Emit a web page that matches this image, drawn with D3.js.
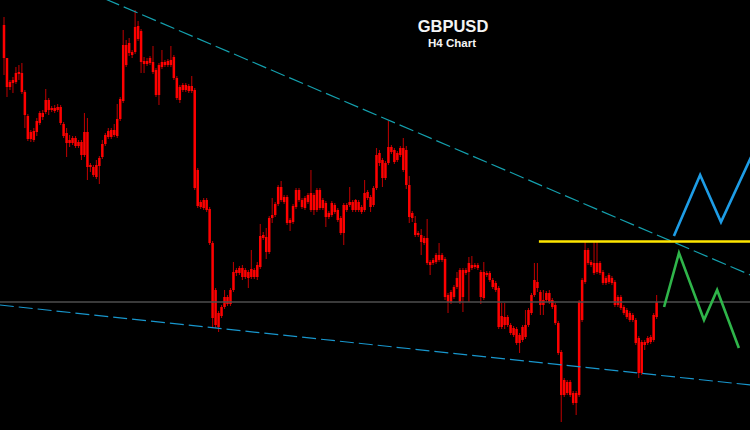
<!DOCTYPE html>
<html>
  <head>
    <title>GBPUSD H4 Chart</title>
    <script src="https://d3js.org/d3.v7.min.js"></script>
  </head>
  <body>
    <svg class="chart" width="750" height="430"></svg>
    <script>
// Candle data (H4 bars)
var open = [
  1.3405,1.3372,1.3343,1.3347,1.3348,1.3356,1.3357,1.3338,1.3314,1.3291,
  1.3299,1.3298,1.3307,1.3313,1.3318,1.3330,1.3322,1.3319,1.3320,1.3323,
  1.3306,1.3297,1.3287,1.3287,1.3292,1.3284,1.3288,1.3275,1.3298,1.3265,
  1.3263,1.3253,1.3264,1.3273,1.3286,1.3293,1.3300,1.3295,1.3294,1.3311,
  1.3329,1.3385,1.3377,1.3378,1.3378,1.3404,1.3399,1.3369,1.3366,1.3367,
  1.3368,1.3360,1.3335,1.3363,1.3368,1.3365,1.3365,1.3373,1.3352,1.3330,
  1.3340,1.3345,1.3344,1.3339,1.3340,1.3260,1.3228,1.3222,1.3230,1.3221,
  1.3187,1.3105,1.3117,1.3114,1.3123,1.3133,1.3126,1.3140,1.3157,1.3157,
  1.3162,1.3153,1.3158,1.3153,1.3160,1.3153,1.3163,1.3192,1.3193,1.3178,
  1.3212,1.3215,1.3226,1.3243,1.3233,1.3233,1.3210,1.3208,1.3223,1.3240,
  1.3230,1.3222,1.3228,1.3237,1.3220,1.3220,1.3240,1.3230,1.3227,1.3217,
  1.3215,1.3225,1.3220,1.3212,1.3197,1.3225,1.3225,1.3228,1.3220,1.3228,
  1.3223,1.3220,1.3232,1.3233,1.3225,1.3242,1.3267,1.3270,1.3252,1.3267,
  1.3283,1.3280,1.3270,1.3275,1.3282,1.3280,1.3245,1.3212,1.3207,1.3197,
  1.3195,1.3187,1.3192,1.3168,1.3167,1.3168,1.3175,1.3170,1.3171,1.3135,
  1.3128,1.3133,1.3143,1.3160,1.3133,1.3160,1.3158,1.3165,1.3163,1.3165,
  1.3158,1.3132,1.3157,1.3157,1.3150,1.3147,1.3142,1.3103,1.3113,1.3105,
  1.3105,1.3102,1.3101,1.3087,1.3090,1.3093,1.3105,1.3117,1.3135,1.3148,
  1.3138,1.3130,1.3130,1.3137,1.3130,1.3125,1.3107,1.3078,1.3035,1.3048,
  1.3035,1.3037,1.3027,1.3035,1.3110,1.3148,1.3180,1.3168,1.3167,1.3158,
  1.3167,1.3158,1.3147,1.3148,1.3152,1.3148,1.3125,1.3133,1.3123,1.3120,
  1.3117,1.3115,1.3110,1.3092,1.3057,1.3088,1.3087,1.3088,1.3090,1.3113
];
var high = [
  1.3413,1.3372,1.3350,1.3353,1.3363,1.3365,1.3367,1.3340,1.3316,1.3300,
  1.3302,1.3312,1.3319,1.3320,1.3341,1.3332,1.3324,1.3325,1.3326,1.3325,
  1.3308,1.3302,1.3295,1.3294,1.3294,1.3290,1.3290,1.3317,1.3312,1.3267,
  1.3265,1.3270,1.3274,1.3290,1.3297,1.3302,1.3302,1.3306,1.3326,1.3333,
  1.3400,1.3390,1.3392,1.3380,1.3420,1.3409,1.3401,1.3373,1.3372,1.3374,
  1.3384,1.3362,1.3367,1.3380,1.3370,1.3371,1.3384,1.3375,1.3354,1.3345,
  1.3347,1.3347,1.3346,1.3354,1.3342,1.3262,1.3230,1.3232,1.3232,1.3223,
  1.3189,1.3142,1.3119,1.3125,1.3140,1.3135,1.3142,1.3168,1.3162,1.3164,
  1.3165,1.3162,1.3160,1.3180,1.3162,1.3168,1.3206,1.3198,1.3202,1.3214,
  1.3232,1.3228,1.3245,1.3249,1.3235,1.3235,1.3212,1.3226,1.3242,1.3242,
  1.3232,1.3234,1.3237,1.3260,1.3237,1.3242,1.3242,1.3232,1.3229,1.3219,
  1.3229,1.3227,1.3222,1.3214,1.3227,1.3227,1.3243,1.3230,1.3231,1.3230,
  1.3225,1.3250,1.3240,1.3235,1.3244,1.3282,1.3280,1.3272,1.3269,1.3309,
  1.3285,1.3282,1.3279,1.3284,1.3292,1.3284,1.3254,1.3219,1.3214,1.3199,
  1.3201,1.3194,1.3211,1.3170,1.3172,1.3177,1.3187,1.3177,1.3173,1.3137,
  1.3140,1.3145,1.3158,1.3162,1.3162,1.3162,1.3173,1.3174,1.3167,1.3167,
  1.3160,1.3168,1.3159,1.3159,1.3152,1.3149,1.3144,1.3127,1.3127,1.3115,
  1.3107,1.3104,1.3103,1.3097,1.3105,1.3120,1.3122,1.3137,1.3167,1.3167,
  1.3140,1.3140,1.3139,1.3140,1.3132,1.3127,1.3109,1.3080,1.3052,1.3050,
  1.3050,1.3039,1.3039,1.3130,1.3152,1.3188,1.3182,1.3170,1.3188,1.3188,
  1.3169,1.3160,1.3154,1.3157,1.3154,1.3150,1.3135,1.3135,1.3125,1.3122,
  1.3119,1.3117,1.3112,1.3094,1.3090,1.3090,1.3094,1.3095,1.3117,1.3135
];
var low = [
  1.3355,1.3333,1.3340,1.3337,1.3346,1.3350,1.3336,1.3302,1.3289,1.3288,
  1.3288,1.3294,1.3305,1.3310,1.3316,1.3315,1.3318,1.3317,1.3318,1.3305,
  1.3292,1.3273,1.3283,1.3285,1.3282,1.3282,1.3270,1.3273,1.3250,1.3258,
  1.3253,1.3251,1.3246,1.3271,1.3284,1.3291,1.3291,1.3293,1.3292,1.3309,
  1.3327,1.3363,1.3374,1.3372,1.3376,1.3389,1.3357,1.3357,1.3364,1.3365,
  1.3356,1.3333,1.3325,1.3361,1.3363,1.3363,1.3363,1.3350,1.3330,1.3327,
  1.3338,1.3338,1.3337,1.3337,1.3240,1.3222,1.3221,1.3220,1.3218,1.3185,
  1.3102,1.3102,1.3098,1.3112,1.3121,1.3124,1.3124,1.3138,1.3154,1.3155,
  1.3150,1.3151,1.3142,1.3151,1.3151,1.3150,1.3161,1.3190,1.3171,1.3176,
  1.3207,1.3213,1.3224,1.3228,1.3226,1.3205,1.3199,1.3206,1.3221,1.3228,
  1.3221,1.3220,1.3226,1.3218,1.3215,1.3218,1.3220,1.3220,1.3203,1.3211,
  1.3213,1.3216,1.3208,1.3195,1.3185,1.3218,1.3223,1.3218,1.3218,1.3218,
  1.3216,1.3218,1.3230,1.3218,1.3223,1.3240,1.3264,1.3243,1.3250,1.3265,
  1.3276,1.3266,1.3268,1.3273,1.3258,1.3241,1.3207,1.3208,1.3193,1.3193,
  1.3175,1.3185,1.3165,1.3155,1.3165,1.3166,1.3168,1.3168,1.3130,1.3117,
  1.3126,1.3131,1.3141,1.3126,1.3118,1.3155,1.3128,1.3160,1.3161,1.3160,
  1.3126,1.3130,1.3153,1.3148,1.3141,1.3138,1.3101,1.3101,1.3101,1.3103,
  1.3095,1.3093,1.3085,1.3077,1.3088,1.3091,1.3103,1.3115,1.3133,1.3138,
  1.3115,1.3115,1.3128,1.3126,1.3121,1.3105,1.3075,1.3008,1.3033,1.3035,
  1.3033,1.3025,1.3015,1.3033,1.3108,1.3146,1.3165,1.3163,1.3155,1.3156,
  1.3155,1.3145,1.3145,1.3146,1.3145,1.3123,1.3123,1.3120,1.3115,1.3111,
  1.3108,1.3108,1.3085,1.3052,1.3055,1.3080,1.3085,1.3086,1.3088,1.3111
];
var close = [
  1.3372,1.3343,1.3348,1.3350,1.3357,1.3358,1.3338,1.3315,1.3291,1.3298,
  1.3290,1.3309,1.3317,1.3317,1.3330,1.3320,1.3320,1.3322,1.3323,1.3307,
  1.3294,1.3287,1.3290,1.3292,1.3284,1.3288,1.3275,1.3298,1.3263,1.3263,
  1.3255,1.3265,1.3272,1.3286,1.3295,1.3299,1.3293,1.3300,1.3311,1.3331,
  1.3385,1.3365,1.3387,1.3375,1.3403,1.3391,1.3368,1.3366,1.3369,1.3372,
  1.3358,1.3335,1.3365,1.3368,1.3365,1.3369,1.3370,1.3352,1.3332,1.3343,
  1.3345,1.3340,1.3339,1.3344,1.3242,1.3224,1.3223,1.3230,1.3220,1.3187,
  1.3112,1.3140,1.3103,1.3123,1.3133,1.3126,1.3140,1.3158,1.3160,1.3162,
  1.3153,1.3160,1.3152,1.3161,1.3153,1.3165,1.3194,1.3195,1.3178,1.3212,
  1.3215,1.3226,1.3243,1.3230,1.3228,1.3207,1.3207,1.3224,1.3240,1.3230,
  1.3223,1.3232,1.3235,1.3220,1.3235,1.3240,1.3222,1.3222,1.3213,1.3213,
  1.3227,1.3218,1.3210,1.3197,1.3225,1.3220,1.3228,1.3220,1.3230,1.3220,
  1.3218,1.3237,1.3238,1.3223,1.3242,1.3275,1.3277,1.3252,1.3267,1.3283,
  1.3278,1.3268,1.3277,1.3282,1.3260,1.3245,1.3213,1.3217,1.3195,1.3195,
  1.3188,1.3192,1.3167,1.3165,1.3170,1.3175,1.3170,1.3175,1.3133,1.3128,
  1.3138,1.3143,1.3152,1.3128,1.3160,1.3157,1.3167,1.3162,1.3165,1.3162,
  1.3133,1.3158,1.3155,1.3150,1.3143,1.3140,1.3103,1.3114,1.3105,1.3113,
  1.3097,1.3095,1.3087,1.3095,1.3103,1.3105,1.3120,1.3135,1.3150,1.3142,
  1.3125,1.3125,1.3137,1.3128,1.3123,1.3107,1.3077,1.3035,1.3050,1.3037,
  1.3048,1.3027,1.3037,1.3128,1.3150,1.3180,1.3167,1.3165,1.3157,1.3167,
  1.3157,1.3147,1.3152,1.3155,1.3147,1.3125,1.3133,1.3122,1.3117,1.3113,
  1.3110,1.3110,1.3087,1.3057,1.3088,1.3085,1.3092,1.3093,1.3115,1.3128
];

// Drawn objects: [bar index, price]
var upperTrend = [[34, 1.3431], [250.5, 1.3155]];
var lowerTrend = [[-1.4, 1.3125], [250.5, 1.3045]];
var resistance = [[179.5, 1.31885], [250.5, 1.31885]];
var bullPath = [[224.8, 1.3194], [233.6, 1.3255], [240.6, 1.3208], [251.0, 1.3275]];
var bearPath = [[221.5, 1.3123], [226.5, 1.3177], [234.9, 1.3110], [239.3, 1.3140], [246.6, 1.3082]];

var symbol = "GBPUSD";
var timeframe = "H4 Chart";

var svg = d3.select("svg"),
    width = +svg.attr("width"),
    height = +svg.attr("height");

svg.append("rect")
    .attr("width", width)
    .attr("height", height)
    .attr("fill", "#000");

var x = d3.scaleLinear()
    .domain([0, 250])
    .range([4, 749]);
var y = d3.scaleLinear()
    .domain([1.3430, 1.3000])
    .range([0, 430]);

var bars = open.map(function (o, i) {
  return { i: i, o: o, h: high[i], l: low[i], c: close[i] };
});

var line = d3.line()
    .x(function (d) { return x(d[0]); })
    .y(function (d) { return y(d[1]); });

// candles
var candles = svg.append("g").attr("class", "candles");
candles.selectAll("line")
    .data(bars)
    .enter().append("line")
      .attr("x1", function (d) { return x(d.i); })
      .attr("x2", function (d) { return x(d.i); })
      .attr("y1", function (d) { return y(d.h); })
      .attr("y2", function (d) { return y(d.l); })
      .attr("stroke", "#b00000")
      .attr("stroke-width", 1.1);
candles.selectAll("rect")
    .data(bars)
    .enter().append("rect")
      .attr("x", function (d) { return x(d.i) - 1.25; })
      .attr("width", 2.5)
      .attr("y", function (d) { return y(Math.max(d.o, d.c)); })
      .attr("height", function (d) { return Math.max(1, Math.abs(y(d.o) - y(d.c))); })
      .attr("fill", "#ff0000");

// last price line
svg.append("line")
    .attr("x1", 0).attr("x2", width)
    .attr("y1", y(close[close.length - 1]))
    .attr("y2", y(close[close.length - 1]))
    .attr("stroke", "#4e4e4e")
    .attr("stroke-width", 1.6);

// trend lines
svg.append("path")
    .datum(upperTrend)
    .attr("d", line)
    .attr("fill", "none")
    .attr("stroke", "#14a0ae")
    .attr("stroke-width", 1.2)
    .attr("stroke-dasharray", "15,5");
svg.append("path")
    .datum(lowerTrend)
    .attr("d", line)
    .attr("fill", "none")
    .attr("stroke", "#1896cc")
    .attr("stroke-width", 1.2)
    .attr("stroke-dasharray", "14,5");

svg.append("path")
    .datum(resistance)
    .attr("d", line)
    .attr("fill", "none")
    .attr("stroke", "#ffe600")
    .attr("stroke-width", 2.6);

svg.append("path")
    .datum(bullPath)
    .attr("d", line)
    .attr("fill", "none")
    .attr("stroke", "#1e9de6")
    .attr("stroke-width", 2.6)
    .attr("stroke-linejoin", "miter");
svg.append("path")
    .datum(bearPath)
    .attr("d", line)
    .attr("fill", "none")
    .attr("stroke", "#2fb54a")
    .attr("stroke-width", 2.6)
    .attr("stroke-linejoin", "miter");

// title
svg.append("text")
    .attr("class", "title")
    .attr("x", 453)
    .attr("y", 32)
    .text(symbol);
svg.append("text")
    .attr("class", "subtitle")
    .attr("x", 452)
    .attr("y", 47)
    .text(timeframe);
</script>
  </body>
</html>

<style>
  body { margin: 0; background: #000; }
  svg { display: block; }
  .title {
    fill: #f4f4f4;
    font-family: "Liberation Sans", Arial, sans-serif;
    font-weight: bold;
    font-size: 16.5px;
    text-anchor: middle;
  }
  .subtitle {
    fill: #f4f4f4;
    font-family: "Liberation Sans", Arial, sans-serif;
    font-weight: bold;
    font-size: 11.5px;
    text-anchor: middle;
  }
</style>
